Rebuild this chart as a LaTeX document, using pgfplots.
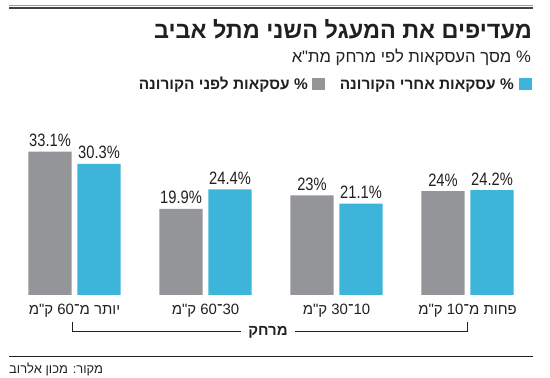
\documentclass[border=0pt]{standalone}
\usepackage{fontspec}
\usepackage{pgfplots}
\pgfplotsset{compat=1.18}
\setmainfont{Liberation Sans}
\newfontfamily\heb[Script=Hebrew]{Liberation Sans}
\newfontfamily\num{Liberation Sans}[FakeStretch=0.82]
\TeXXeTstate=1
\definecolor{bargray}{HTML}{939598}
\definecolor{barblue}{HTML}{3DB4D9}
\definecolor{txt}{HTML}{231F20}
\begin{document}
\begin{tikzpicture}
\useasboundingbox (0,0) rectangle (550bp,378bp);
\begin{axis}[
  at={(9bp,83bp)}, anchor=south west, scale only axis,
  width=524bp, height=173.2bp,
  xmin=-0.5, xmax=3.5, ymin=0, ymax=40,
  axis line style={draw=none}, major tick length=0pt,
  ytick=\empty, xtick={0,1,2,3},
  xticklabels={{\beginR יותר מ־\kern0pt 60 ק"מ\endR},{\beginR 30\kern0pt ־\kern0pt 60 ק"מ\endR},{\beginR 10\kern0pt ־\kern0pt 30 ק"מ\endR},{\beginR פחות מ־\kern0pt 10 ק"מ\endR}},
  xticklabel style={font=\heb\fontsize{15}{15}\selectfont, text=txt, anchor=base, inner sep=0pt, yshift=-20bp},
  ybar, bar width=43.4bp,
  nodes near coords={\pgfmathprintnumber{\pgfplotspointmeta}\%},
  /pgf/number format/assume math mode=true,
  every node near coord/.append style={font=\num\fontsize{18}{18}\selectfont, text=txt, anchor=base, inner sep=0pt, yshift=5bp},
  clip=false,
]
\addplot[fill=bargray, draw=none, bar shift=-24.5bp] coordinates {(0,33.1) (1,19.9) (2,23) (3,24)};
\addplot[fill=barblue, draw=none, bar shift=24.5bp] coordinates {(0,30.3) (1,24.4) (2,21.1) (3,24.2)};
\end{axis}
% top rules
\draw[line width=0.7bp, color=black!40] (9bp,372.6bp) -- (533bp,372.6bp);
\draw[line width=1.2bp, color=txt!85] (9bp,370bp) -- (533bp,370bp);
% title
\node[anchor=base east, inner sep=0pt, text=txt] at (532bp,339bp) {\heb\bfseries\fontsize{23.5}{23.5}\selectfont\beginR מעדיפים את המעגל השני מתל אביב\endR};
\node[anchor=base east, inner sep=0pt, text=txt] at (531bp,315bp) {\heb\fontsize{16.7}{16.7}\selectfont\beginR \%\ מסך העסקאות לפי מרחק מת"א\endR};
% legend
\fill[barblue] (519bp,288bp) rectangle (532bp,300bp);
\node[anchor=base east, inner sep=0pt, text=txt] at (514bp,288bp) {\heb\bfseries\fontsize{15.5}{15.5}\selectfont\beginR \%\ עסקאות אחרי הקורונה\endR};
\fill[bargray] (312bp,288bp) rectangle (325bp,300bp);
\node[anchor=base east, inner sep=0pt, text=txt] at (308bp,288bp) {\heb\bfseries\fontsize{15.5}{15.5}\selectfont\beginR \%\ עסקאות לפני הקורונה\endR};
% bracket
\draw[line width=0.9bp, txt] (72bp,56bp) -- (72bp,46.5bp) -- (241bp,46.5bp);
\draw[line width=0.9bp, txt] (295bp,46.5bp) -- (467bp,46.5bp) -- (467bp,56bp);
\node[anchor=base, inner sep=0pt, text=txt] at (268bp,42bp) {\heb\bfseries\fontsize{15}{15}\selectfont\beginR מרחק\endR};
% bottom rule and source
\draw[line width=1bp, txt] (9bp,21bp) -- (533bp,21bp);
\node[anchor=base west, inner sep=0pt, text=txt] at (9bp,5bp) {\heb\fontsize{13}{13}\selectfont\beginR מקור\kern0pt: מכון אלרוב\endR};
\end{tikzpicture}
\end{document}
